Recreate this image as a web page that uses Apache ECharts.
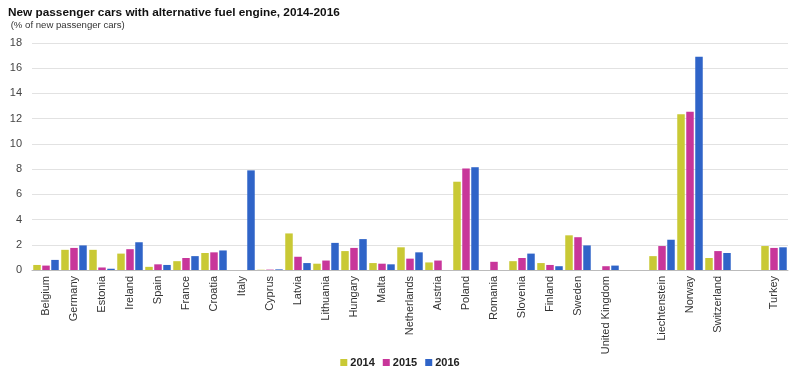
<!DOCTYPE html>
<html><head><meta charset="utf-8">
<script src="https://cdn.jsdelivr.net/npm/echarts@6/dist/echarts.min.js"></script>
<style>html,body{margin:0;padding:0;background:#fff}#c{width:800px;height:380px}</style>
</head><body><div id="c"></div>
<script>
var categories = ['Belgium','Germany','Estonia','Ireland','Spain','France','Croatia','Italy','Cyprus','Latvia','Lithuania','Hungary','Malta','Netherlands','Austria','Poland','Romania','Slovenia','Finland','Sweden','United Kingdom','','Liechtenstein','Norway','Switzerland','','Turkey'];
var v2014 = [0.4,1.6,1.6,1.3,0.25,0.7,1.35,null,0.02,2.9,0.5,1.5,0.55,1.8,0.6,7.0,null,0.7,0.55,2.75,null,null,1.1,12.35,0.95,null,1.9];
var v2015 = [0.35,1.75,0.2,1.65,0.45,0.95,1.4,null,0.03,1.05,0.75,1.75,0.5,0.9,0.75,8.05,0.65,0.95,0.4,2.6,0.3,null,1.9,12.55,1.5,null,1.75];
var v2016 = [0.8,1.95,0.1,2.2,0.4,1.1,1.55,7.9,0.05,0.55,2.15,2.45,0.45,1.4,null,8.15,null,1.3,0.3,1.95,0.35,null,2.4,16.9,1.35,null,1.8];
var years = ['2014','2015','2016'];
var colors = ['#c9c935','#c8369a','#2f64c8'];
var chart = echarts.init(document.getElementById('c'));
var data = [v2014, v2015, v2016];
chart.setOption({
  animation:false,
  title:{text:'New passenger cars with alternative fuel engine, 2014-2016',
    subtext:' (% of new passenger cars)', left:3, top:2, itemGap:1,
    textStyle:{fontFamily:'Liberation Sans, Arial',fontSize:11.8,fontWeight:'bold',color:'#111'},
    subtextStyle:{fontFamily:'Liberation Sans, Arial',fontSize:9.6,color:'#333'}},
  legend:{bottom:7,left:'center',itemWidth:7,itemHeight:7,itemGap:8,icon:'rect',
    textStyle:{fontFamily:'Liberation Sans, Arial',fontSize:11,fontWeight:'bold',color:'#222',padding:[0,0,0,-2]}},
  grid:{left:32,right:12,top:43,bottom:110},
  xAxis:{type:'category',data:categories,
    axisLine:{lineStyle:{color:'#bbb'}},axisTick:{show:false},
    axisLabel:{rotate:90,interval:0,fontFamily:'Liberation Sans, Arial',fontSize:11,color:'#333',margin:6}},
  yAxis:{type:'value',min:0,max:18,interval:2,
    axisLabel:{fontFamily:'Liberation Sans, Arial',fontSize:11,color:'#444',margin:10},
    splitLine:{lineStyle:{color:'#e2e2e2'}}},
  series: years.map(function(y,i){return {name:y,type:'bar',data:data[i],barWidth:7.5,barGap:'20%',itemStyle:{color:colors[i]}};})
});
</script></body></html>
